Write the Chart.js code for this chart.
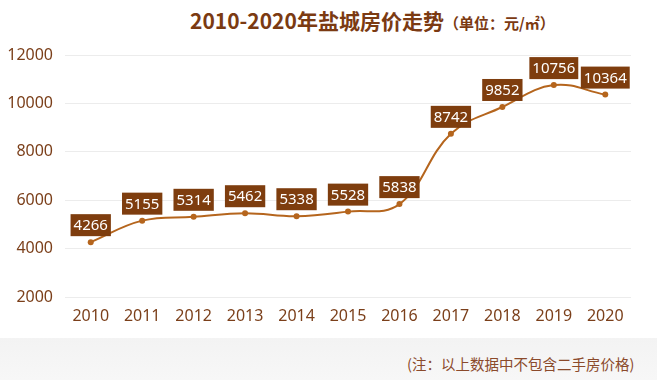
<!DOCTYPE html>
<html><head><meta charset="utf-8">
<script src="https://cdn.jsdelivr.net/npm/chart.js@4/dist/chart.umd.min.js"></script>
<style>
html,body{margin:0;padding:0;background:#fff;}
#wrap{position:relative;width:657px;height:380px;overflow:hidden;background:#fff;}
#band{position:absolute;left:0;top:338px;width:657px;height:42px;background:linear-gradient(#f3f3f3,#f7f7f7);}
#title{position:absolute;left:190px;top:5px;font-family:"Noto Sans CJK SC","Noto Sans",sans-serif;font-weight:bold;font-size:21px;color:#7B3A12;white-space:nowrap;}
#title span{font-size:15px;}
#note{position:absolute;left:407px;top:353px;font-family:"Noto Sans CJK SC",sans-serif;font-size:14.5px;color:#8B4A2B;white-space:nowrap;}
canvas{position:absolute;left:0;top:0;}
</style></head>
<body><div id="wrap">
<div id="band"></div>
<div id="title">2010-2020年盐城房价走势<span>（单位：元/㎡）</span></div>
<div id="note">(注：以上数据中不包含二手房价格)</div>
<canvas id="c" width="657" height="380"></canvas>
</div>
<script>
const years = ['2010','2011','2012','2013','2014','2015','2016','2017','2018','2019','2020'];
const prices = [4266,5155,5314,5462,5338,5528,5838,8742,9852,10756,10364];
const yTicks = [2000,4000,6000,8000,10000,12000];

const labelPlugin = {
  id:'boxLabels',
  afterDatasetsDraw(chart){
    const ctx = chart.ctx;
    const meta = chart.getDatasetMeta(0);
    ctx.save();
    ctx.font = '15px "Noto Sans", "Open Sans", sans-serif';
    ctx.textAlign = 'center';
    ctx.textBaseline = 'middle';
    meta.data.forEach((pt,i)=>{
      const txt = String(prices[i]);
      const w = ctx.measureText(txt).width + 6;
      const h = 22;
      const cx = pt.x, bottom = pt.y - 6;
      ctx.fillStyle = '#7E3D0E';
      ctx.fillRect(cx - w/2, bottom - h, w, h);
      ctx.fillStyle = '#ffffff';
      ctx.fillText(txt, cx, bottom - h/2 + 1);
    });
    ctx.restore();
  }
};

new Chart(document.getElementById('c'), {
  type:'line',
  data:{labels:years, datasets:[{
    data:prices,
    borderColor:'#B5651D',
    backgroundColor:'#B5651D',
    borderWidth:2,
    pointRadius:3,
    pointBackgroundColor:'#B5651D',
    pointBorderWidth:0,
    tension:0.4,
    fill:false
  }]},
  options:{
    responsive:false,
    animation:false,
    devicePixelRatio:1,
    layout:{padding:{left:0,right:26,top:55,bottom:43}},
    plugins:{legend:{display:false},tooltip:{enabled:false},title:{display:false}},
    scales:{
      x:{
        offset:true,
        grid:{display:false,drawTicks:false},
        border:{display:false},
        ticks:{padding:10,color:'#7B3F1A',font:{size:16,family:'"Noto Sans", "Open Sans", sans-serif'},maxRotation:0},
        afterFit(s){s.height=40;}
      },
      y:{
        min:2000,max:12000,
        afterBuildTicks(s){s.ticks = yTicks.map(v=>({value:v}));},
        grid:{color:'#ececec',drawTicks:false,lineWidth:1},
        border:{display:false},
        ticks:{padding:12,color:'#7B3F1A',font:{size:16,family:'"Noto Sans", "Open Sans", sans-serif'},callback:(v)=>String(v)},
        afterFit(s){s.width=65;}
      }
    }
  },
  plugins:[labelPlugin]
});
</script>
</body></html>
